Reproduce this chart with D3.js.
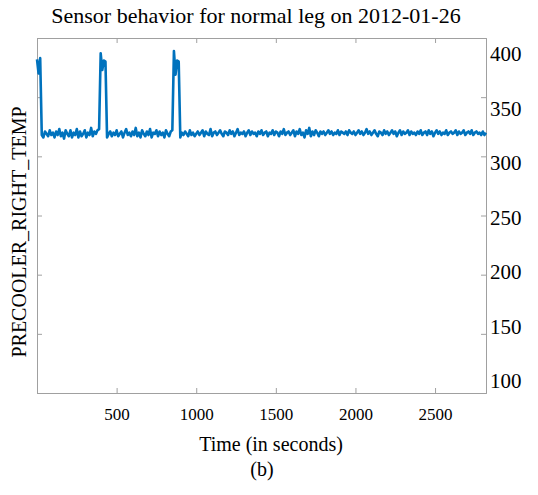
<!DOCTYPE html>
<html>
<head>
<meta charset="utf-8">
<script src="https://cdn.jsdelivr.net/npm/d3@7"></script>
<style>
  body { margin: 0; background: #fff; }
  text { font-family: 'Liberation Serif', 'Times New Roman', serif; fill: #000; }
</style>
</head>
<body>
<svg width="538" height="495"></svg>
<script>
// sampled every 10 s, starting at t = 0
const sampleStep = 10;
const tempValues = [
  382, 370, 383, 318, 316, 321, 319, 317, 322, 318, 320, 316, 321, 318, 323, 317, 320, 315, 322, 319,
  317, 322, 316, 320, 318, 323, 316, 321, 317, 319, 322, 316, 320, 318, 324, 317, 321, 319, 322, 323,
  387, 373, 381, 380, 316, 319, 321, 317, 320, 318, 322, 317, 319, 321, 316, 320, 323, 318, 320, 317,
  321, 318, 324, 317, 320, 316, 322, 319, 317, 321, 318, 323, 316, 320, 319, 322, 317, 321, 318, 320,
  316, 322, 319, 317, 321, 322, 389, 369, 381, 380, 316, 320, 318, 321, 319, 317, 322, 318, 320, 317,
  319, 321, 318, 320, 322, 317, 321, 319, 318, 323, 317, 320, 321, 318, 320, 322, 319, 317, 321, 320,
  318, 322, 319, 321, 317, 320, 323, 318, 320, 319, 321, 317, 320, 322, 318, 321, 319, 320, 317, 321,
  319, 322, 318, 320, 321, 317, 320, 319, 322, 318, 321, 320, 317, 321, 319, 323, 318, 320, 321, 318,
  320, 322, 317, 321, 319, 323, 318, 320, 316, 322, 319, 324, 317, 321, 318, 322, 320, 317, 321, 319,
  321, 318, 320, 322, 319, 321, 318, 320, 319, 322, 318, 321, 320, 319, 321, 318, 322, 320, 319, 321,
  318, 320, 322, 319, 321, 318, 320, 323, 319, 321, 318, 320, 322, 319, 317, 321, 320, 318, 322, 319,
  321, 318, 320, 322, 319, 321, 317, 320, 322, 318, 321, 319, 320, 322, 318, 321, 319, 320, 318, 321,
  319, 322, 318, 320, 321, 318, 322, 319, 321, 317, 320, 322, 319, 321, 318, 320, 319, 322, 318, 320,
  321, 319, 320, 322, 318, 321, 319, 320, 322, 318, 320, 321, 319, 322, 318, 320, 321, 319, 320, 318,
  321, 318, 320
];
const xTicks = [500, 1000, 1500, 2000, 2500];
const yTicks = [100, 150, 200, 250, 300, 350, 400];

const titleText = 'Sensor behavior for normal leg on 2012-01-26';
const xLabelText = 'Time (in seconds)';
const yLabelText = 'PRECOOLER_RIGHT_TEMP';
const captionText = '(b)';

const svg = d3.select('svg');
const width = +svg.attr('width');
const height = +svg.attr('height');

const data = tempValues.map((v, i) => ({time: i * sampleStep, temp: v}));

const margin = {top: 38, right: 52, bottom: 102, left: 37};
const innerWidth = width - margin.left - margin.right;
const innerHeight = height - margin.top - margin.bottom;

const xScale = d3.scaleLinear()
    .domain([0, 2820])
    .range([0, innerWidth]);

const yScale = d3.scaleLinear()
    .domain([100, 400])
    .range([innerHeight, 0]);

// the tick labels in the figure sit a bit inside the ticks
const yLabelScale = d3.scaleLinear()
    .domain([100, 400])
    .range([innerHeight - 12, 16]);

const g = svg.append('g')
    .attr('transform', `translate(${margin.left},${margin.top})`);

// box: top and left without labels
g.append('g').call(d3.axisTop(xScale).tickValues(xTicks).tickSize(-5))
    .selectAll('text').remove();
g.append('g').call(d3.axisLeft(yScale).tickValues(yTicks).tickSize(-5))
    .selectAll('text').remove();

const xAxisG = g.append('g')
    .attr('transform', `translate(0,${innerHeight})`)
    .call(d3.axisBottom(xScale).tickValues(xTicks).tickSize(-5).tickPadding(15).tickFormat(d3.format('d')));
xAxisG.selectAll('text').attr('font-size', 17);

const yAxisG = g.append('g')
    .attr('transform', `translate(${innerWidth},0)`)
    .call(d3.axisRight(yScale).tickValues(yTicks).tickSize(-5).tickPadding(4));
yAxisG.selectAll('.tick text')
    .attr('font-size', 21)
    .attr('y', d => yLabelScale(d) - yScale(d));

g.selectAll('.domain').attr('stroke', '#a0a0a0');
g.selectAll('.tick line').attr('stroke', '#a0a0a0');
g.selectAll('.tick text').attr('fill', '#000').attr('font-family', "'Liberation Serif', serif");

const line = d3.line()
    .x(d => xScale(d.time))
    .y(d => yScale(d.temp));

g.append('path')
    .datum(data)
    .attr('fill', 'none')
    .attr('stroke', '#0072bd')
    .attr('stroke-width', 2.6)
    .attr('stroke-linejoin', 'round')
    .attr('d', line);

svg.append('text')
    .attr('x', 256)
    .attr('y', 23)
    .attr('text-anchor', 'middle')
    .attr('font-size', 22)
    .text(titleText);

svg.append('text')
    .attr('x', 271)
    .attr('y', 451)
    .attr('text-anchor', 'middle')
    .attr('font-size', 20)
    .text(xLabelText);

svg.append('text')
    .attr('x', 262)
    .attr('y', 476)
    .attr('text-anchor', 'middle')
    .attr('font-size', 20)
    .text(captionText);

svg.append('text')
    .attr('transform', `translate(26,${232}) rotate(-90)`)
    .attr('text-anchor', 'middle')
    .attr('font-size', 20)
    .text(yLabelText);
</script>
</body>
</html>
